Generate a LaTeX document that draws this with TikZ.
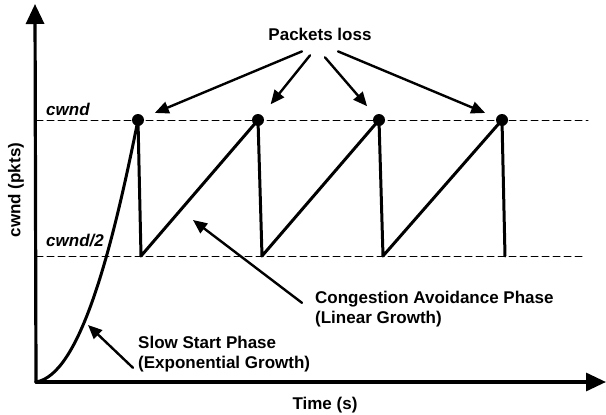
\documentclass[tikz,border=0pt]{standalone}
\usepackage{fontspec}
\setmainfont{Liberation Sans}
\usetikzlibrary{arrows.meta,positioning}

\begin{document}
\begin{tikzpicture}
[x=1pt, y=-1pt, line cap=round,
every node/.style={font=\bfseries\fontsize{17}{19.5}\selectfont, inner sep=0pt},
loss/.style={circle, fill, inner sep=0pt, minimum size=12pt},
level/.style={anchor=base west, font=\bfseries\itshape\fontsize{17}{19.5}\selectfont},
limit/.style={dash pattern=on 7pt off 4pt, line width=1pt},
axis/.style={-{Triangle[length=20pt,width=18pt]}, line width=3.2pt},
window/.style={line width=3pt, line join=round},
pointer/.style={-{Triangle[length=14pt,width=12pt]}, line width=2.4pt}
]
  \useasboundingbox (0,0) rectangle (606,415);

  % axes
  \coordinate (o)    at (36,382);
  \coordinate (ytop) at (35,4);
  \coordinate (xend) at (606,382);
  \draw[axis] (o) -- (ytop);
  \draw[axis] (o) -- (xend);
  \node[rotate=90] (ylab) at (16,190) {cwnd (pkts)};
  \node[anchor=base] (xlab) at (325,409) {Time (s)};

  % cwnd levels
  \coordinate (hi0) at (36,120);  \coordinate (hi1) at (588,120);
  \coordinate (lo0) at (36,256);  \coordinate (lo1) at (582,256);
  \draw[limit] (hi0) -- (hi1);
  \draw[limit] (lo0) -- (lo1);
  \node[level] (cwnd)  at (46,115) {cwnd};
  \node[level] (cwnd2) at (46,246) {cwnd/2};

  % losses
  \node[loss] (p1) at (138,120) {};
  \node[loss] (p2) at (258,120) {};
  \node[loss] (p3) at (379,120) {};
  \node[loss] (p4) at (502,120) {};
  \coordinate (b1) at (141,256);
  \coordinate (b2) at (262,256);
  \coordinate (b3) at (383,256);
  \coordinate (b4) at (505,256);

  % slow start, then sawtooth
  \draw[window] (o) .. controls (80,375) and (112,250) .. (p1.center);
  \draw[window] (p1.center) -- (b1) -- (p2.center) -- (b2) -- (p3.center)
    -- (b3) -- (p4.center) -- (b4);

  % labels
  \node[anchor=base] (loss) at (320,41) {Packets loss};
  \node[anchor=base west, align=left] (ca) at (315,323)
    {Congestion Avoidance Phase\\(Linear Growth)};
  \node[anchor=base west, align=left] (ss) at (138,368)
    {Slow Start Phase\\(Exponential Growth)};
  \coordinate (ca-tip) at (193,220);
  \coordinate (ss-tip) at (88,325);

  \draw[pointer, shorten >=12pt] ([xshift=-18pt,yshift=-10pt]loss.south) -- (p1);
  \draw[pointer, shorten >=14pt] ([xshift=-10pt,yshift=-14pt]loss.south) -- (p2);
  \draw[pointer, shorten >=12pt] ([xshift=5pt,yshift=-16pt]loss.south) -- (p3);
  \draw[pointer, shorten >=12pt] ([xshift=18pt,yshift=-10pt]loss.south) -- (p4);
  \draw[pointer] ([xshift=-13pt,yshift=6pt]ca.west) -- (ca-tip);
  \draw[pointer] ([xshift=-5pt,yshift=-14pt]ss.west) -- (ss-tip);
\end{tikzpicture}
\end{document}
